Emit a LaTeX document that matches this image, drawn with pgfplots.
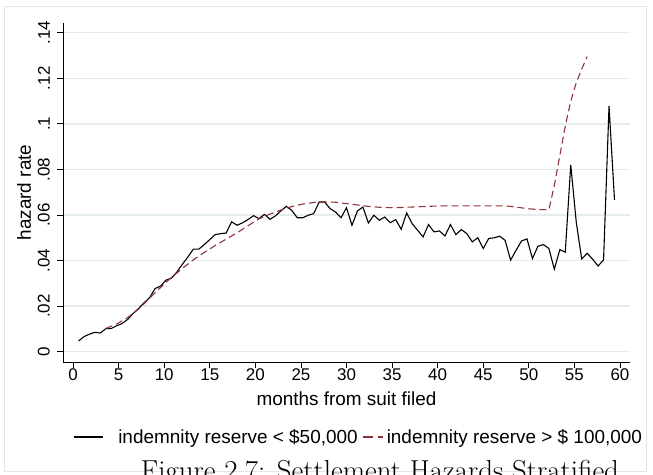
\documentclass[border=0pt]{standalone}
\usepackage{fontspec}
\usepackage{pgfplots}
\pgfplotsset{compat=1.18}
\newfontfamily\arial{Liberation Sans}
\definecolor{gridc}{RGB}{228,236,238}
\definecolor{bordc}{RGB}{222,231,233}
\definecolor{maroon}{RGB}{144,53,59}
\pgfplotsset{
 blackleg/.style={legend image code/.code={\draw[##1] (0bp,0bp) -- (29bp,0bp);}},
 redleg/.style={legend image code/.code={\draw[##1, dash pattern=on 10bp off 5bp on 5bp off 20bp] (0bp,0bp) -- (20bp,0bp);}},
}

\begin{document}
\begin{tikzpicture}
\useasboundingbox (0,0) rectangle (653bp,475bp);
\clip (0,0) rectangle (653bp,475bp);
\draw[bordc, line width=0.8bp] (4.3bp,4bp) rectangle (646.7bp,468.3bp);
\node[anchor=north, inner sep=0pt, font=\fontsize{29}{32}\selectfont] at (380bp,15bp) {Figure 2.7: Settlement Hazards Stratified};
\begin{axis}[
 at={(63bp,112.7bp)}, anchor=south west,
 scale only axis, width=567bp, height=339.6bp,
 xmin=-1.1, xmax=61.1, ymin=-0.00465, ymax=0.1444,
 axis x line*=bottom, axis y line*=left,
 x axis line style={-}, y axis line style={-},
 axis line style={black, line width=0.8bp},
 tick align=outside, major tick length=6bp,
 tick style={black, line width=0.8bp},
 xtick={0,5,...,60},
 xticklabels={0,5,10,15,20,25,30,35,40,45,50,55,60},
 ytick={0,0.02,0.04,0.06,0.08,0.1,0.12,0.14},
 yticklabels={0,.02,.04,.06,.08,.1,.12,.14},
 ymajorgrids, grid style={gridc, line width=1.3bp},
 ticklabel style={font=\arial\fontsize{17}{20}\selectfont, inner sep=0pt},
 yticklabel style={rotate=90, anchor=south},
 yticklabel shift=7bp,
 xticklabel style={anchor=north},
 xlabel={months from suit filed}, ylabel={hazard rate},
 label style={font=\arial\fontsize{19}{22}\selectfont, inner sep=0pt},
 xlabel style={at={(axis description cs:0.5,-0.0875)}, anchor=north},
 ylabel style={at={(axis description cs:-0.056,0.5)}, anchor=south},
 legend columns=2, legend cell align=left,
 legend style={at={(axis description cs:0.0176,-0.22)}, anchor=west, draw=none, fill=none, inner sep=0pt,
   font=\arial\fontsize{19}{22}\selectfont, nodes={inner sep=0pt},
   /tikz/column 1/.style={column sep=15bp},
   /tikz/column 2/.style={column sep=5bp},
   /tikz/column 3/.style={column sep=3bp}},
]
\addplot[black, line width=1.1bp, blackleg] coordinates {
(0.6,0.0047) (1.2,0.0066) (1.8,0.0077) (2.4,0.0085) (3.0,0.0082) (3.6,0.0101)
(4.2,0.0102) (4.8,0.0114) (5.4,0.0124) (6.0,0.0142) (6.6,0.0168) (7.2,0.0190)
(7.8,0.0215) (8.4,0.0237) (9.0,0.0277) (9.6,0.0288) (10.2,0.0314) (10.8,0.0323)
(11.4,0.0350) (12.0,0.0384) (12.6,0.0416) (13.2,0.0450) (13.8,0.0450) (14.4,0.0470)
(15.0,0.0492) (15.6,0.0514) (16.2,0.0518) (16.8,0.0521) (17.4,0.0570) (18.0,0.0555)
(18.6,0.0566) (19.2,0.0580) (19.8,0.0597) (20.4,0.0584) (21.0,0.0603) (21.6,0.0581)
(22.2,0.0596) (22.8,0.0618) (23.4,0.0638) (24.0,0.0620) (24.6,0.0588) (25.2,0.0588)
(25.8,0.0599) (26.4,0.0606) (27.0,0.0657) (27.6,0.0657) (28.2,0.0628) (28.8,0.0613)
(29.4,0.0588) (30.0,0.0632) (30.6,0.0555) (31.2,0.0618) (31.8,0.0635) (32.4,0.0565)
(33.0,0.0599) (33.6,0.0577) (34.2,0.0591) (34.8,0.0566) (35.4,0.0580) (36.0,0.0537)
(36.6,0.0609) (37.2,0.0562) (37.8,0.0533) (38.4,0.0504) (39.0,0.0558) (39.6,0.0526)
(40.2,0.0530) (40.8,0.0508) (41.4,0.0558) (42.0,0.0514) (42.6,0.0536) (43.2,0.0518)
(43.8,0.0482) (44.4,0.0500) (45.0,0.0453) (45.6,0.0497) (46.2,0.0500) (46.8,0.0507)
(47.4,0.0489) (48.0,0.0402) (48.6,0.0445) (49.2,0.0486) (49.8,0.0495) (50.4,0.0409)
(51.0,0.0463) (51.6,0.0470) (52.2,0.0453) (52.8,0.0362) (53.4,0.0448) (54.0,0.0437)
(54.6,0.0820) (55.2,0.0570) (55.8,0.0407) (56.4,0.0432) (57.0,0.0406) (57.6,0.0376)
(58.2,0.0403) (58.8,0.1079) (59.4,0.0666)
};
\addlegendentry{indemnity reserve < \$50,000}
\addplot[maroon, line width=1.1bp, dash pattern=on 7bp off 4bp, redleg] coordinates {
(3.6,0.0102) (4.8,0.0122) (6.0,0.0150) (7.2,0.0187) (8.4,0.0235) (9.6,0.0282)
(10.8,0.0326) (12.0,0.0366) (13.2,0.0403) (14.4,0.0436) (15.6,0.0466) (16.8,0.0494)
(18.0,0.0522) (19.2,0.0553) (20.4,0.0583) (21.6,0.0604) (22.8,0.0622) (24.0,0.0637)
(25.2,0.0648) (26.4,0.0655) (27.6,0.0658) (28.8,0.0656) (30.0,0.0650) (31.2,0.0644)
(32.4,0.0638) (33.6,0.0634) (34.8,0.0632) (36.0,0.0633) (37.2,0.0635) (38.4,0.0637)
(39.6,0.0639) (40.8,0.0640) (42.0,0.0640) (43.2,0.0640) (44.4,0.0640) (45.6,0.0640)
(46.8,0.0640) (47.4,0.0640) (48.6,0.0635) (49.8,0.0628) (51.0,0.0624) (52.2,0.0623)
(52.8,0.0730) (53.4,0.0860) (54.0,0.0990) (54.6,0.1100) (55.2,0.1180) (55.8,0.1240)
(56.4,0.1295)
};
\addlegendentry{indemnity reserve > \$ 100,000}
\end{axis}
\end{tikzpicture}
\end{document}
